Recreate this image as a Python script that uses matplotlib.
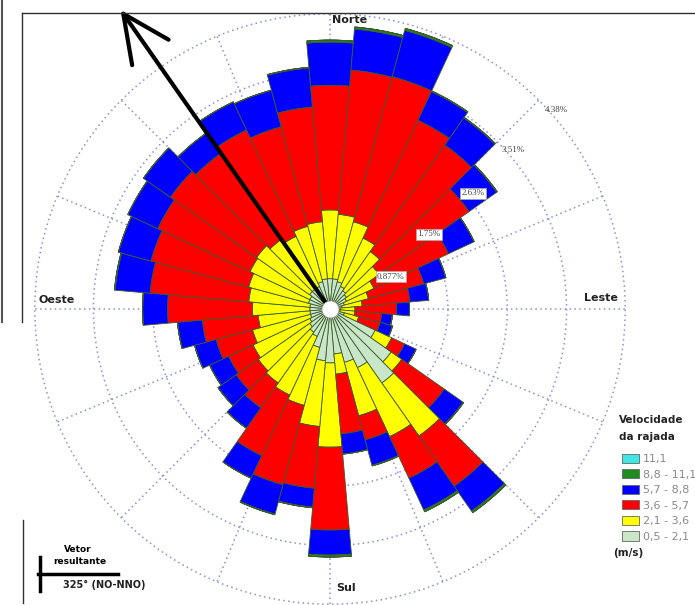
import numpy as np
import matplotlib.pyplot as plt
from matplotlib.patches import Patch
from matplotlib.lines import Line2D

# direcoes (graus, a partir do norte, sentido horario)
direcoes = np.arange(0, 360, 10)

# frequencias (%) por classe de velocidade da rajada
freq_05_21 = [0.45, 0.45, 0.42, 0.37, 0.33, 0.30, 0.27, 0.22, 0.18, 0.15, 0.15, 0.22,
              0.74, 1.11, 1.34, 0.96, 0.82, 0.67, 0.80, 0.77, 0.59, 0.45, 0.42, 0.37,
              0.33, 0.30, 0.30, 0.30, 0.30, 0.33, 0.33, 0.37, 0.37, 0.37, 0.42, 0.45]
freq_21_36 = [1.02, 0.96, 0.92, 0.79, 0.71, 0.59, 0.45, 0.37, 0.30, 0.22, 0.22, 0.22,
              0.27, 0.19, 0.96, 1.13, 0.82, 0.30, 1.25, 0.98, 0.89, 0.96, 0.92, 0.93,
              0.93, 0.89, 0.77, 0.85, 0.91, 0.92, 0.98, 0.96, 0.89, 0.82, 0.85, 0.85]
freq_36_57 = [1.85, 2.15, 2.23, 1.93, 1.93, 1.63, 1.22, 0.85, 0.71, 0.62, 0.40, 0.33,
              0.21, 0.77, 0.91, 0.68, 0.37, 0.89, 1.23, 0.92, 1.22, 0.99, 0.45, 0.40,
              0.40, 0.56, 0.83, 1.26, 1.47, 1.50, 1.51, 1.56, 1.56, 1.74, 1.53, 1.71]
freq_57_88 = [0.64, 0.61, 0.71, 0.47, 0.49, 0.50, 0.42, 0.34, 0.28, 0.19, 0.16, 0.19,
              0.19, 0.34, 0.45, 0.52, 0.39, 0.30, 0.37, 0.28, 0.45, 0.37, 0.37, 0.33,
              0.31, 0.33, 0.37, 0.37, 0.52, 0.50, 0.49, 0.49, 0.37, 0.46, 0.56, 0.58]
freq_88_111 = [0.03, 0.03, 0.03, 0.01, 0.01, 0.01, 0.0, 0.0, 0.0, 0.0, 0.0, 0.0,
               0.0, 0.01, 0.03, 0.03, 0.01, 0.0, 0.03, 0.01, 0.01, 0.0, 0.0, 0.0,
               0.0, 0.0, 0.0, 0.0, 0.01, 0.0, 0.0, 0.0, 0.0, 0.0, 0.0, 0.01]
freq_111 = [0.0] * 36

classes = ['11,1', '8,8 - 11,1', '5,7 - 8,8', '3,6 - 5,7', '2,1 - 3,6', '0,5 - 2,1']
cores = ['#3ee6e6', '#1e8c1e', '#0000ff', '#ff0000', '#ffff00', '#c9e6c9']

aneis = [0.877, 1.75, 2.63, 3.51, 4.38]
rotulos_aneis = ['0.877%', '1.75%', '2.63%', '3.51%', '4.38%']

vetor_dir = 325
vetor_comp = 5.42

# escala: 67.4 px por 1 %
rmax = 4.40
px = 67.4
raio = rmax * px
cx, cy = 330, 309
W, H = 695, 605

fig = plt.figure(figsize=(W / 100, H / 100), dpi=100)
ax = fig.add_axes([(cx - raio) / W, (H - cy - raio) / H, 2 * raio / W, 2 * raio / H],
                  projection='polar')
ax.set_theta_zero_location('N')
ax.set_theta_direction(-1)
ax.set_ylim(0, rmax)

theta = np.deg2rad(direcoes)
largura = np.deg2rad(10)
base = np.zeros(len(direcoes))
series = [freq_05_21, freq_21_36, freq_36_57, freq_57_88, freq_88_111, freq_111]
for vals, cor in zip(series, cores[::-1]):
    vals = np.array(vals)
    ax.bar(theta, vals, width=largura, bottom=base, color=cor,
           edgecolor='#3c5a2c', linewidth=0.6, zorder=2)
    base = base + vals

# grade pontilhada
ax.set_rgrids(aneis, labels=[])
ax.set_thetagrids(np.arange(0, 360, 22.5), labels=[])
ax.grid(True, color='#8f8fd0', linestyle=(0, (1, 2.2)), linewidth=1.1)
ax.set_axisbelow(True)
ax.spines['polar'].set_visible(False)

# rotulos dos aneis
ang_rot = [62, 53, 51, 49, 48.6]
r_rot = [1.02, 1.84, 2.73, 3.59, 4.47]
for i, txt in enumerate(rotulos_aneis):
    caixa = dict(boxstyle='square,pad=0.15', fc='white', ec='#aaaaaa', lw=0.5) if i < 3 else None
    ax.text(np.deg2rad(ang_rot[i]), r_rot[i], txt, fontsize=6.5, family='Liberation Serif',
            color='#444444', ha='center', va='center', bbox=caixa, zorder=6)

# vetor resultante
ax.annotate('', xy=(np.deg2rad(vetor_dir), vetor_comp), xytext=(0, 0),
            arrowprops=dict(arrowstyle='->,head_length=1.7,head_width=0.8', lw=3,
                            color='black', mutation_scale=20, shrinkA=0, shrinkB=0),
            annotation_clip=False, zorder=4)
ax.scatter([0], [0], s=150, c='white', edgecolors='#999999', linewidths=0.5, zorder=5)

# pontos cardeais
fonte = dict(fontsize=8, fontweight='bold', color='#222222', ha='center', va='center')
fig.text(350 / W, 1 - 20 / H, 'Norte', **fonte)
fig.text(57 / W, 1 - 300 / H, 'Oeste', **fonte)
fig.text(601 / W, 1 - 298 / H, 'Leste', **fonte)
fig.text(346 / W, 1 - 588 / H, 'Sul', **fonte)

# legenda
fig.text(619 / W, 1 - 420 / H, 'Velocidade', fontsize=7.5, fontweight='bold', color='#222222',
         ha='left', va='center')
fig.text(619 / W, 1 - 437 / H, 'da rajada', fontsize=7.5, fontweight='bold', color='#222222',
         ha='left', va='center')
alcas = [Patch(facecolor=c, edgecolor='#666666', linewidth=0.6) for c in cores]
leg = fig.legend(alcas, classes, loc='upper left', bbox_to_anchor=(616 / W, 1 - 448 / H),
                 fontsize=8, frameon=False, labelcolor='#8a8a8a', handlelength=1.6,
                 handleheight=0.9, handletextpad=0.3, labelspacing=0.46, borderpad=0)
fig.text(613 / W, 1 - 553 / H, '(m/s)', fontsize=7.5, fontweight='bold', color='#222222',
         ha='left', va='center')

# vetor resultante (quadro inferior esquerdo)
fig.text(78 / W, 1 - 550 / H, 'Vetor', fontsize=6.5, fontweight='bold', ha='center', va='center')
fig.text(80 / W, 1 - 561 / H, 'resultante', fontsize=6.5, fontweight='bold', ha='center', va='center')
fig.text(104 / W, 1 - 585 / H, '325° (NO-NNO)', fontsize=7, fontweight='bold', color='#222222',
         ha='center', va='center')
fig.add_artist(Line2D([38 / W, 118 / W], [1 - 574 / H, 1 - 574 / H], color='black', lw=2.5))
fig.add_artist(Line2D([40 / W, 40 / W], [1 - 557 / H, 1 - 591 / H], color='black', lw=2.5))

# bordas do quadro
fig.add_artist(Line2D([22 / W, 1], [1 - 13 / H, 1 - 13 / H], color='#333333', lw=1))
fig.add_artist(Line2D([22 / W, 22 / W], [1 - 13 / H, 1 - 322 / H], color='#333333', lw=1))
fig.add_artist(Line2D([23 / W, 23 / W], [1 - 520 / H, 1 - 603 / H], color='#333333', lw=1))
fig.add_artist(Line2D([2 / W, 2 / W], [1 - 322 / H, 1], color='#555555', lw=1.5))

fig.savefig('out.png', dpi=100)
